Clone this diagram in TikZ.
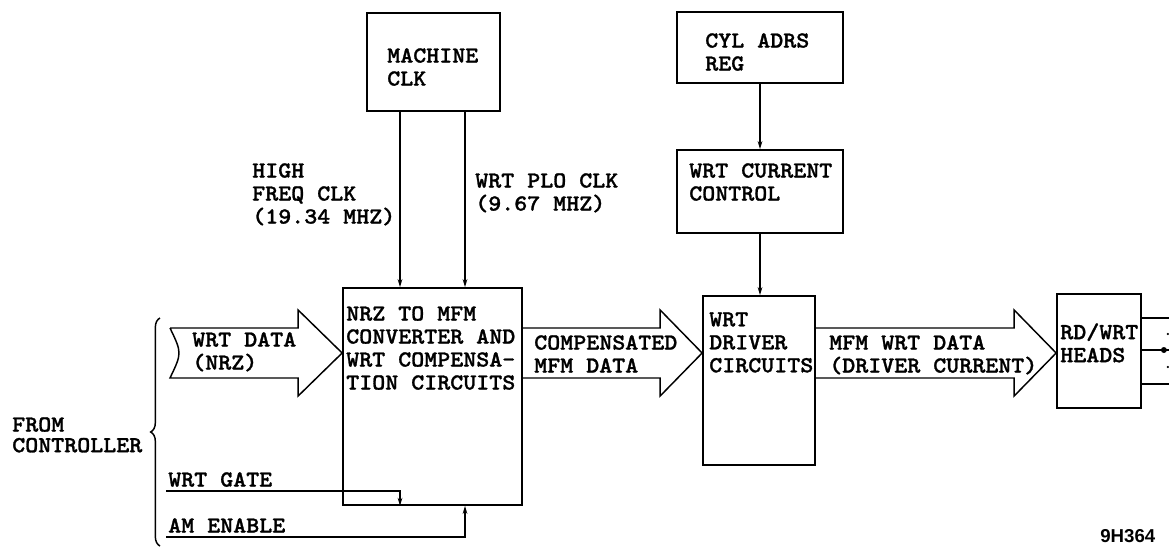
\documentclass[tikz,border=0pt]{standalone}
\usepackage{fontspec}
\newfontfamily\typefont{lmmonolt10-bold.otf}[FakeStretch=1.08,FakeBold=1.2]
\newfontfamily\tagfont{Liberation Sans}
\usetikzlibrary{arrows.meta,calc,decorations.pathreplacing}
\tikzset{
  blk/.style n args={2}{draw,line width=1.3pt,minimum width=#1*0.75pt,minimum height=#2*0.75pt,inner sep=0pt},
  lbl/.style={anchor=north west,inner sep=0pt,align=left,font=\typefont\fontsize{17.2}{17.25}\selectfont},
  sig/.style={line width=1.1pt,-{Stealth[length=6pt,width=3.5pt]}},
  bus/.style={line width=1.1pt,line join=miter},
}
\begin{document}
\begin{tikzpicture}[x=0.75pt,y=-0.75pt]
  \useasboundingbox (0,0) rectangle (1169,546);
  % blocks
  \node[blk={133}{98}]  (clk)   at (433.5,62)  {};
  \node[blk={179}{217}] (nrz)   at (432.5,396.5) {};
  \node[blk={166}{71}]  (cyl)   at (760,47.5)  {};
  \node[blk={166}{83}]  (cur)   at (760,191.5) {};
  \node[blk={112}{169}] (drv)   at (759,380.5) {};
  \node[blk={84}{114}]  (heads) at (1099,351)  {};
  % block texts
  \node[lbl] (clkt)   at (387,48)   {MACHINE\\CLK};
  \node[lbl] (nrzt)   at (346,306)  {NRZ TO MFM\\CONVERTER AND\\WRT COMPENSA-\\TION CIRCUITS};
  \node[lbl] (cylt)   at (705,33)   {CYL ADRS\\REG};
  \node[lbl] (curt)   at (689,163)  {WRT CURRENT\\CONTROL};
  \node[lbl] (drvt)   at (709,312)  {WRT\\DRIVER\\CIRCUITS};
  \node[lbl] (headst) at (1060,323) {RD/WRT\\HEADS};
  % signal labels
  \node[lbl] (hfl)  at (252,163) {HIGH\\FREQ CLK\\(19.34 MHZ)};
  \node[lbl] (plol) at (475,173) {WRT PLO CLK\\(9.67 MHZ)};
  \node[lbl,font=\typefont\fontsize{17.2}{15.5}\selectfont] (from) at (12,417) {FROM\\CONTROLLER};
  \node[lbl] (gate) at (168,472) {WRT GATE};
  \node[lbl] (amen) at (168,518) {AM ENABLE};
  \node[anchor=south west,inner sep=0pt,font=\tagfont\fontsize{14}{14}\selectfont\bfseries] (tag) at (1100,543) {9H364};
  % clock and control lines
  \coordinate (colA) at (400,0);
  \coordinate (colB) at (465,0);
  \draw[sig] (clk.south -| colA) -- (nrz.north -| colA);
  \draw[sig] (clk.south -| colB) -- (nrz.north -| colB);
  \draw[sig] (cyl.south) -- (cur.north);
  \draw[sig] (cur.south) -- (cur.south |- drv.north);
  \coordinate (gateL) at (166,491);
  \coordinate (amL) at (166,537);
  \draw[sig] (gateL) -- (gateL -| colA) -- (nrz.south -| colA);
  \draw[sig] (amL) -- (amL -| colB) -- (nrz.south -| colB);
  % wide data arrows
  \coordinate (busy) at (0,353);
  \coordinate (tail) at (170,353);
  \draw[bus] ($(tail)+(0,-25)$) -- ($(nrz.west |- busy)+(-44,-25)$) -- ++(0,-18)
    -- (nrz.west |- busy) -- ($(nrz.west |- busy)+(-44,43)$) -- ++(0,-18)
    -- ($(tail)+(0,25)$) .. controls ($(tail)+(12,0)$) .. ($(tail)+(0,-25)$);
  \foreach \s/\e in {nrz/drv,drv/heads}
    \draw[bus] ($(\s.east |- busy)+(0,-25)$) -- ($(\e.west |- busy)+(-42,-25)$) -- ++(0,-18)
      -- (\e.west |- busy) -- ($(\e.west |- busy)+(-42,43)$) -- ++(0,-18)
      -- ($(\s.east |- busy)+(0,25)$);
  \node[lbl] (datal) at (192,332) {WRT DATA\\(NRZ)};
  \node[lbl] (compl) at (534,335) {COMPENSATED\\MFM DATA};
  \node[lbl] (mfml)  at (829,335) {MFM WRT DATA\\(DRIVER CURRENT)};
  % brace
  \draw[line width=1.1pt,decorate,decoration={brace,amplitude=7pt}] (160,546) -- (160,318);
  % head outputs
  \foreach \dy in {-33,-1,33}
    \draw[line width=1.1pt] ($(heads.east)+(0,\dy)$) -- ($(heads.east)+(30,\dy)$);
  \fill ($(heads.east)+(22,-1)$) circle (3);
  \fill ($(heads.east)+(26,-17)$) circle (1.2);
  \fill ($(heads.east)+(26,16)$) circle (1.2);
\end{tikzpicture}
\end{document}
